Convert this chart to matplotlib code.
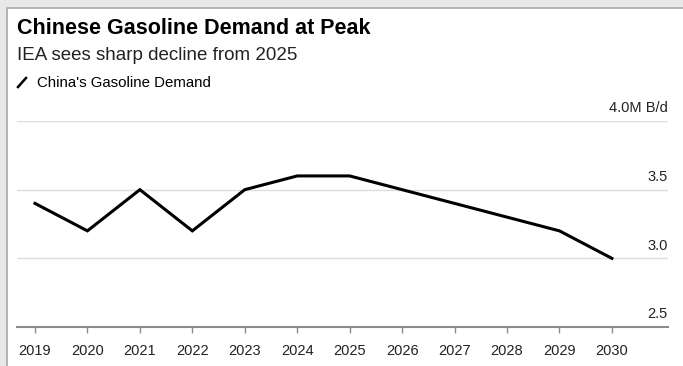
import matplotlib.pyplot as plt
from matplotlib.patches import Rectangle
from matplotlib.lines import Line2D
from matplotlib import transforms

years = [2019, 2020, 2021, 2022, 2023, 2024, 2025, 2026, 2027, 2028, 2029, 2030]
demand = [3.4, 3.2, 3.5, 3.2, 3.5, 3.6, 3.6, 3.5, 3.4, 3.3, 3.2, 3.0]
y_ticks = [2.5, 3.0, 3.5, 4.0]
y_labels = ['2.5', '3.0', '3.5', '4.0M B/d']

plt.rcParams['font.family'] = ['Liberation Sans', 'DejaVu Sans']

W, H = 683, 366
fig = plt.figure(figsize=(W / 100, H / 100), dpi=100)
fig.patch.set_facecolor('#e8e8e8')

# white card with grey border
fig.add_artist(Rectangle((7 / W, -0.01), 1, 1.01 - 8 / H, transform=fig.transFigure,
                         facecolor='white', edgecolor='#a8a8a8', linewidth=1.2, zorder=-5))

fig.text(17 / W, 1 - 28 / H, 'Chinese Gasoline Demand at Peak', fontsize=15.5,
         fontweight='bold', va='center', ha='left', color='black')
fig.text(17 / W, 1 - 56 / H, 'IEA sees sharp decline from 2025', fontsize=13.5,
         va='center', ha='left', color='#222222')
fig.add_artist(Line2D([18 / W, 26 / W], [1 - 87 / H, 1 - 78 / H], transform=fig.transFigure,
                      color='black', linewidth=1.8))
fig.text(37 / W, 1 - 83 / H, "China's Gasoline Demand", fontsize=10.8,
         va='center', ha='left', color='black')

ax = fig.add_axes([17 / W, (H - 327) / H, (668 - 17) / W, (327 - 121) / H])
ax.set_facecolor('none')

ax.plot(years, demand, color='black', linewidth=2.2, solid_joinstyle='miter', zorder=3)

ax.set_xlim(2018.657, 2031.07)
ax.set_ylim(2.5, 4.0)

for v in y_ticks[1:]:
    ax.axhline(v, color='#dddddd', linewidth=1.0, zorder=1)

trans = transforms.blended_transform_factory(ax.transAxes, ax.transData)
offset = transforms.ScaledTranslation(0, 4 / 72, fig.dpi_scale_trans)
for v, lab in zip(y_ticks, y_labels):
    ax.text(1.0, v, lab, transform=trans + offset, ha='right', va='bottom',
            fontsize=10.5, color='#222222')

for s in ['top', 'right', 'left']:
    ax.spines[s].set_visible(False)
ax.spines['bottom'].set_color('#8c8c8c')
ax.spines['bottom'].set_linewidth(1.5)

ax.set_yticks([])
ax.set_xticks(years)
ax.set_xticklabels([str(y) for y in years], fontsize=10.5, color='#222222')
ax.tick_params(axis='x', direction='out', length=4, width=1, color='#8c8c8c', pad=8)

fig.savefig('out.png', dpi=100, facecolor=fig.get_facecolor())
